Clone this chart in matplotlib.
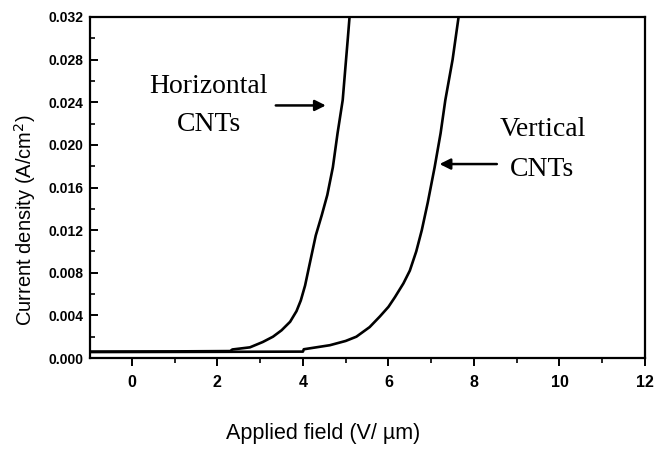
import numpy as np
import matplotlib.pyplot as plt
from matplotlib.ticker import MultipleLocator, FormatStrFormatter

plt.rc('font', family='Liberation Sans')

# field (V/um) and current density (A/cm^2)
horiz_x = [-0.93, 1.0, 2.30, 2.35, 2.76, 3.06, 3.30, 3.50, 3.70, 3.85, 3.95, 4.05, 4.14,
           4.30, 4.44, 4.57, 4.70, 4.81, 4.93, 5.00, 5.05, 5.09, 5.11]
horiz_y = [0.00060, 0.00062, 0.00065, 0.00080, 0.00100, 0.00150, 0.00200, 0.00260, 0.00340,
           0.00440, 0.00540, 0.00680, 0.00850, 0.01150, 0.01340, 0.01530, 0.01790, 0.02110,
           0.02420, 0.02760, 0.03000, 0.03200, 0.03300]
vert_x = [-0.93, 2.0, 4.00, 4.02, 4.63, 5.00, 5.25, 5.56, 5.80, 6.00, 6.15, 6.35, 6.50, 6.65,
          6.78, 6.92, 7.08, 7.22, 7.33, 7.50, 7.64, 7.67]
vert_y = [0.00056, 0.00058, 0.00060, 0.00082, 0.00120, 0.00160, 0.00200, 0.00290, 0.00390,
          0.00480, 0.00570, 0.00700, 0.00820, 0.01000, 0.01200, 0.01460, 0.01790, 0.02110,
          0.02420, 0.02800, 0.03200, 0.03300]

xticks = [0, 2, 4, 6, 8, 10, 12]

fig = plt.figure(figsize=(6.61, 4.51), dpi=100)
ax = fig.add_axes((90/661, (451-358)/451, (645-90)/661, (358-17)/451))

ax.plot(horiz_x, horiz_y, color='k', lw=1.9)
ax.plot(vert_x, vert_y, color='k', lw=1.9)

ax.set_xlim(-0.98, 12)
ax.set_ylim(0, 0.032)
ax.set_xticks(xticks)
ax.xaxis.set_minor_locator(MultipleLocator(1))
ax.yaxis.set_major_locator(MultipleLocator(0.004))
ax.yaxis.set_minor_locator(MultipleLocator(0.002))
ax.yaxis.set_major_formatter(FormatStrFormatter('%.3f'))

for s in ax.spines.values():
    s.set_linewidth(1.6)

ax.tick_params(axis='x', which='major', direction='out', length=6, width=1.4, pad=6,
               labelsize=11.5)
ax.tick_params(axis='x', which='minor', direction='out', length=3.5, width=1.2)
ax.tick_params(axis='y', which='major', direction='in', length=6, width=1.4, pad=5,
               labelsize=10)
ax.tick_params(axis='y', which='minor', direction='in', length=3.5, width=1.2)
for lab in ax.get_xticklabels() + ax.get_yticklabels():
    lab.set_fontweight('bold')

fig.text(323/661, 1 - 433/451, 'Applied field (V/ \u00b5m)', ha='center', va='center', fontsize=15.5)
fig.text(25/661, 1 - 220/451, 'Current density (A/cm$^2$)', ha='center', va='center',
         rotation=90, fontsize=14.5)

# annotations
serif = 'Liberation Serif'
ax.annotate('', xy=(4.60, 0.0237), xytext=(3.30, 0.0237),
            arrowprops=dict(arrowstyle='-|>', color='k', lw=1.8, mutation_scale=16))
ax.text(1.8, 0.0255, 'Horizontal', family=serif, fontsize=20, ha='center', va='center')
ax.text(1.8, 0.0219, 'CNTs', family=serif, fontsize=20, ha='center', va='center')

ax.annotate('', xy=(7.13, 0.0182), xytext=(8.6, 0.0182),
            arrowprops=dict(arrowstyle='-|>', color='k', lw=1.8, mutation_scale=16))
ax.text(9.6, 0.0214, 'Vertical', family=serif, fontsize=20, ha='center', va='center')
ax.text(9.6, 0.0177, 'CNTs', family=serif, fontsize=20, ha='center', va='center')

fig.savefig('out.png', dpi=100)
